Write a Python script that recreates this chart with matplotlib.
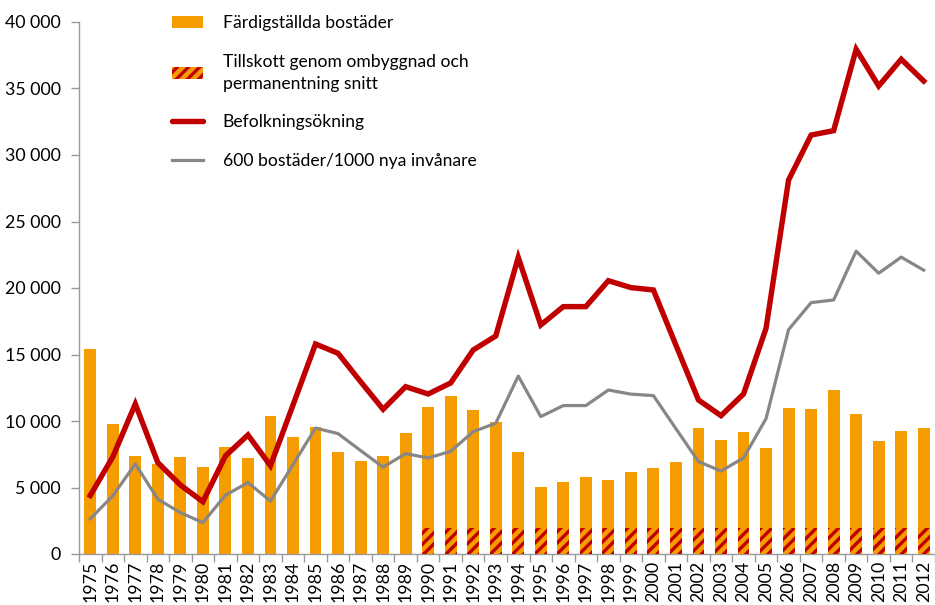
import matplotlib
matplotlib.use('Agg')
import matplotlib.pyplot as plt
from matplotlib.patches import Patch
from matplotlib.lines import Line2D
from matplotlib.ticker import FuncFormatter

plt.rcParams['font.family'] = ['Lato', 'DejaVu Sans']
plt.rcParams['hatch.linewidth'] = 2.4

# data
years = list(range(1975, 2013))
bostader = [15400, 9770, 7370, 6750, 7300, 6550, 8050, 7200, 10370, 8800,
            9550, 7670, 6990, 7370, 9100, 11050, 11880, 10830, 9920, 7670,
            5040, 5410, 5790, 5560, 6170, 6470, 6920, 9470, 8570, 9170,
            7970, 10980, 10900, 12330, 10530, 8500, 9250, 9470]
# tillskott genom ombyggnad och permanentning (snitt), visas från 1990
tillskott_years = list(range(1990, 2013))
tillskott = [1950] * len(tillskott_years)
befolkning = [4400, 7300, 11280, 6870, 5190, 3930, 7370, 8950, 6640, 11200,
              15790, 15090, 12960, 10880, 12580, 12030, 12860, 15340, 16390, 22300,
              17220, 18600, 18600, 20550, 20030, 19850, 15700, 11580, 10400, 12030,
              16970, 28120, 31500, 31830, 37950, 35190, 37200, 35560]
# 600 bostäder per 1000 nya invånare
behov = [2640, 4380, 6770, 4120, 3110, 2360, 4420, 5370, 3980, 6720,
         9470, 9050, 7780, 6530, 7550, 7220, 7720, 9200, 9830, 13380,
         10330, 11160, 11160, 12330, 12020, 11910, 9420, 6950, 6240, 7220,
         10180, 16870, 18900, 19100, 22770, 21110, 22320, 21340]

orange = '#F59C00'
red = '#C00000'
grey = '#878787'
axcol = '#9a9a9a'

fig = plt.figure(figsize=(9.35, 6.05), dpi=100)
ax = fig.add_axes([79/935, 51/605, (935-79)/935, (554-22)/605])

x = list(range(len(years)))
ax.bar(x, bostader, width=0.53, color=orange, linewidth=0, zorder=2)
tx = [years.index(y) for y in tillskott_years]
ax.bar(tx, tillskott, width=0.53, color=orange, edgecolor=red, hatch='///',
       linewidth=0, zorder=3)
ax.plot(x, befolkning, color=red, lw=3.9, solid_joinstyle='miter', zorder=5)
ax.plot(x, behov, color=grey, lw=2.3, zorder=4)

ax.set_xlim(-0.5, len(years) - 0.5)
ax.set_ylim(0, 40000)
ax.set_yticks(range(0, 40001, 5000))
ax.yaxis.set_major_formatter(FuncFormatter(lambda v, p: f'{int(v):,}'.replace(',', ' ')))
ax.set_xticks(x)
ax.set_xticklabels([str(y) for y in years], rotation=90)
ax.set_xticks([i - 0.5 for i in range(len(years) + 1)], minor=True)
ax.tick_params(axis='x', which='major', length=0, pad=5, labelsize=12.8)
ax.tick_params(axis='x', which='minor', length=6, color=axcol, width=1)
ax.tick_params(axis='y', length=6, color=axcol, width=1, pad=7, labelsize=12.8)

for s in ['top', 'right']:
    ax.spines[s].set_visible(False)
for s in ['left', 'bottom']:
    ax.spines[s].set_color(axcol)
    ax.spines[s].set_linewidth(1)

handles = [
    Patch(facecolor=orange, linewidth=0),
    Patch(facecolor=orange, edgecolor=red, hatch='///', linewidth=0),
    Line2D([], [], color=red, lw=3.9, solid_capstyle='round'),
    Line2D([], [], color=grey, lw=2.3),
]
labels = ['Färdigställda bostäder',
          'Tillskott genom ombyggnad och\npermanentning snitt',
          'Befolkningsökning',
          '600 bostäder/1000 nya invånare']
leg = fig.legend(handles, labels, loc='upper left', bbox_to_anchor=(172/935, 1 - 15/605),
                 frameon=False, fontsize=12.6, handlelength=1.75, handleheight=0.7,
                 handletextpad=1.15, labelspacing=1.3, borderpad=0, borderaxespad=0)
for t in leg.get_texts():
    t.set_linespacing(1.45)

fig.savefig('out.png', dpi=100)
